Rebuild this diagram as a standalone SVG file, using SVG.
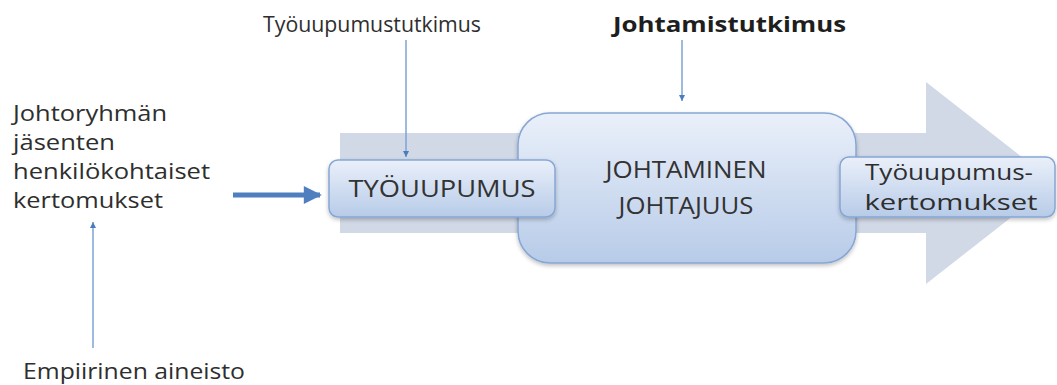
<svg xmlns="http://www.w3.org/2000/svg" width="1057" height="385" viewBox="0 0 1057 385">
  <defs>
    <linearGradient id="boxFill" x1="0" y1="0" x2="0" y2="1">
      <stop offset="0" stop-color="#eaf0fa"/>
      <stop offset="1" stop-color="#b7cbe8"/>
    </linearGradient>
    <filter id="shadow" x="-10%" y="-10%" width="120%" height="130%">
      <feGaussianBlur in="SourceAlpha" stdDeviation="2"/>
      <feOffset dy="2" result="b"/>
      <feComponentTransfer><feFuncA type="linear" slope="0.25"/></feComponentTransfer>
      <feMerge><feMergeNode/><feMergeNode in="SourceGraphic"/></feMerge>
    </filter>
    <marker id="tip" viewBox="0 0 10 10" refX="10" refY="5" markerWidth="7" markerHeight="6" markerUnits="userSpaceOnUse" orient="auto">
      <path d="M0,0 L10,5 L0,10 Z" fill="#4a7cc0"/>
    </marker>
    <marker id="bigTip" viewBox="0 0 10 10" refX="9" refY="5" markerWidth="4.5" markerHeight="3.6" orient="auto">
      <path d="M0,0 L10,5 L0,10 Z" fill="#4f7fbf"/>
    </marker>
  </defs>
  <style>
    .box { fill: url(#boxFill); stroke: #86a6d4; stroke-width: 1.5; filter: url(#shadow); }
    .lbl { font-family: "Open Sans", "DejaVu Sans", sans-serif; fill: #2e2e2e; }
    .caps { font-size: 24px; fill: #333333; }
    .txt { font-size: 22px; }
    .bold { font-weight: bold; fill: #1e1e1e; }
    .thin { stroke: #7ea3d6; stroke-width: 1.5; fill: none; marker-end: url(#tip); }
    .thick { stroke: #4f7fbf; stroke-width: 5; fill: none; marker-end: url(#bigTip); }
  </style>

  <!-- broad background arrow -->
  <g id="flow-arrow">
    <path d="M340,133 H926 V82 L1055,183 L926,284 V233 H340 Z" fill="#d1d8e6"/>
  </g>

  <!-- connectors -->
  <g id="connectors">
    <line class="thin" x1="406" y1="40" x2="406" y2="157"/>
    <line class="thin" x1="682" y1="40" x2="682" y2="101"/>
    <line class="thin" x1="93" y1="348" x2="93" y2="222"/>
    <line class="thick" x1="233" y1="195" x2="320" y2="195"/>
  </g>

  <g id="tyouupumustutkimus">
    <text class="lbl txt" x="263" y="32" textLength="218" lengthAdjust="spacingAndGlyphs">Työuupumustutkimus</text>
  </g>

  <g id="johtamistutkimus">
    <text class="lbl txt bold" x="613" y="32" textLength="233" lengthAdjust="spacingAndGlyphs">Johtamistutkimus</text>
  </g>

  <g id="kertomukset">
    <text class="lbl txt" x="13" y="121" textLength="154" lengthAdjust="spacingAndGlyphs">Johtoryhmän</text>
    <text class="lbl txt" x="13" y="150" textLength="102" lengthAdjust="spacingAndGlyphs">jäsenten</text>
    <text class="lbl txt" x="13" y="179" textLength="197" lengthAdjust="spacingAndGlyphs">henkilökohtaiset</text>
    <text class="lbl txt" x="13" y="208" textLength="150" lengthAdjust="spacingAndGlyphs">kertomukset</text>
  </g>

  <g id="empiirinen">
    <text class="lbl txt" x="23" y="379" textLength="222" lengthAdjust="spacingAndGlyphs">Empiirinen aineisto</text>
  </g>

  <g id="johtaminen">
    <rect class="box" x="518" y="113" width="338" height="150" rx="32"/>
    <text class="lbl caps" x="686" y="178" text-anchor="middle" textLength="161" lengthAdjust="spacingAndGlyphs">JOHTAMINEN</text>
    <text class="lbl caps" x="686" y="214" text-anchor="middle" textLength="135" lengthAdjust="spacingAndGlyphs">JOHTAJUUS</text>
  </g>

  <g id="tyouupumus">
    <rect class="box" x="329" y="160" width="226" height="57" rx="9"/>
    <text class="lbl caps" x="442" y="197" text-anchor="middle" textLength="187" lengthAdjust="spacingAndGlyphs">TYÖUUPUMUS</text>
  </g>

  <g id="tyouupumuskertomukset">
    <rect class="box" x="840" y="157" width="215" height="60" rx="9"/>
    <text class="lbl txt" x="949" y="180" text-anchor="middle" textLength="168" lengthAdjust="spacingAndGlyphs">Työuupumus-</text>
    <text class="lbl txt" x="951" y="210" text-anchor="middle" textLength="173" lengthAdjust="spacingAndGlyphs">kertomukset</text>
  </g>
</svg>
